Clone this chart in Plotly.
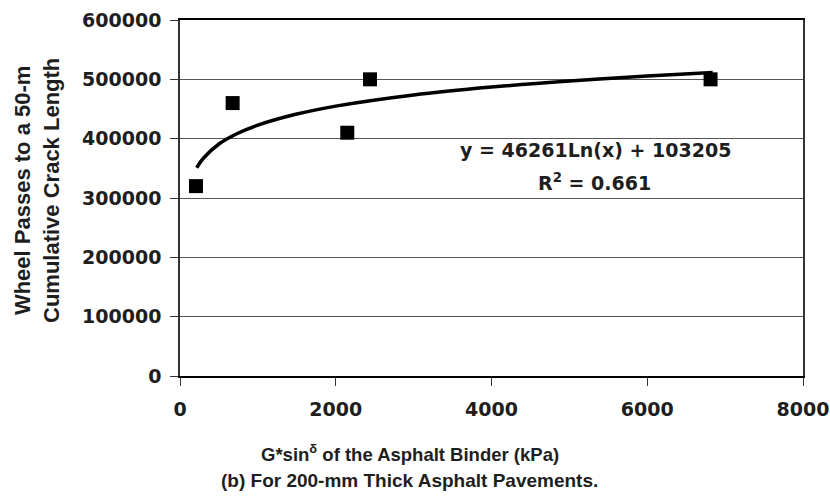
import plotly.graph_objects as go

# Measured data points
g_sin_delta = [205, 676, 2148, 2440, 6813]
wheel_passes = [320000, 460000, 410000, 500000, 500000]

# Logarithmic trendline
trend_x = [214, 300, 500, 750, 1000, 1500, 2000, 3000, 4000, 5000, 6000, 6840]
trend_y = [351000, 367000, 391000, 409500, 422800, 441500, 454800, 473600, 486900, 497200, 505700, 511700]

x_ticks = [0, 2000, 4000, 6000, 8000]
y_ticks = [0, 100000, 200000, 300000, 400000, 500000, 600000]

WIDE = "DejaVu Sans, Liberation Sans, Arial, sans-serif"
ARIAL = "Liberation Sans, Arial, sans-serif"
INK = "#1e1e1e"

# plot-area pixel geometry used to place annotations in paper coords
L, R, T, B = 180, 803, 20, 376
PW, PH = R - L, B - T


def px(x):
    return (x - L) / PW


def py(y):
    return (B - y) / PH


fig = go.Figure()
fig.add_trace(go.Scatter(
    x=trend_x, y=trend_y, mode="lines", line=dict(color="black", width=3.5, shape="spline"),
    showlegend=False, hoverinfo="skip"))
fig.add_trace(go.Scatter(
    x=g_sin_delta, y=wheel_passes, mode="markers",
    marker=dict(symbol="square", size=14, color="black", line=dict(width=0)),
    showlegend=False))

tick_font = dict(family=WIDE, size=19, color=INK, weight="bold")

fig.update_layout(
    width=830, height=497,
    margin=dict(l=L, r=830 - R, t=T, b=497 - B),
    paper_bgcolor="white", plot_bgcolor="white",
    font=dict(family=ARIAL, color=INK),
    xaxis=dict(range=[0, 8000], tickvals=x_ticks, ticktext=[str(v) for v in x_ticks],
               showgrid=False, zeroline=False, showline=True, linecolor="black", linewidth=2,
               mirror=True, ticks="outside", ticklen=8, tickwidth=1, tickcolor="#333",
               tickfont=tick_font, ticklabelstandoff=7, automargin=False),
    yaxis=dict(range=[0, 600000], tickvals=y_ticks, ticktext=[str(v) for v in y_ticks],
               showgrid=True, gridcolor="#555", gridwidth=1, zeroline=False,
               showline=True, linecolor="#333", linewidth=1.5, mirror=True,
               ticks="outside", ticklen=8, tickwidth=1, tickcolor="#333",
               tickfont=tick_font, ticklabelstandoff=5, automargin=False),
)

ann_font = dict(family=WIDE, size=19, color=INK, weight="bold")
fig.add_annotation(text="y = 46261Ln(x) + 103205", xref="paper", yref="paper",
                   x=px(595), y=py(150), xanchor="center", yanchor="middle",
                   showarrow=False, font=ann_font)
fig.add_annotation(text="R<sup>2</sup> = 0.661", xref="paper", yref="paper",
                   x=px(594), y=py(182), xanchor="center", yanchor="middle",
                   showarrow=False, font=ann_font)
fig.add_annotation(text="Wheel Passes to a 50-m<br>Cumulative Crack Length",
                   xref="paper", yref="paper", x=px(37), y=py(191),
                   xanchor="center", yanchor="middle",
                   textangle=-90, showarrow=False,
                   font=dict(family=ARIAL, size=22, color=INK, weight="bold"))
fig.add_annotation(text="G*sin<sup>δ</sup> of the Asphalt Binder (kPa)",
                   xref="paper", yref="paper", x=px(410), y=py(453),
                   xanchor="center", yanchor="middle",
                   showarrow=False, font=dict(family=ARIAL, size=18.5, color=INK, weight="bold"))
fig.add_annotation(text="(b) For 200-mm Thick Asphalt Pavements.",
                   xref="paper", yref="paper", x=px(409), y=py(480),
                   xanchor="center", yanchor="middle",
                   showarrow=False, font=dict(family=ARIAL, size=19, color=INK, weight="bold"))

fig.write_html("out.html")
